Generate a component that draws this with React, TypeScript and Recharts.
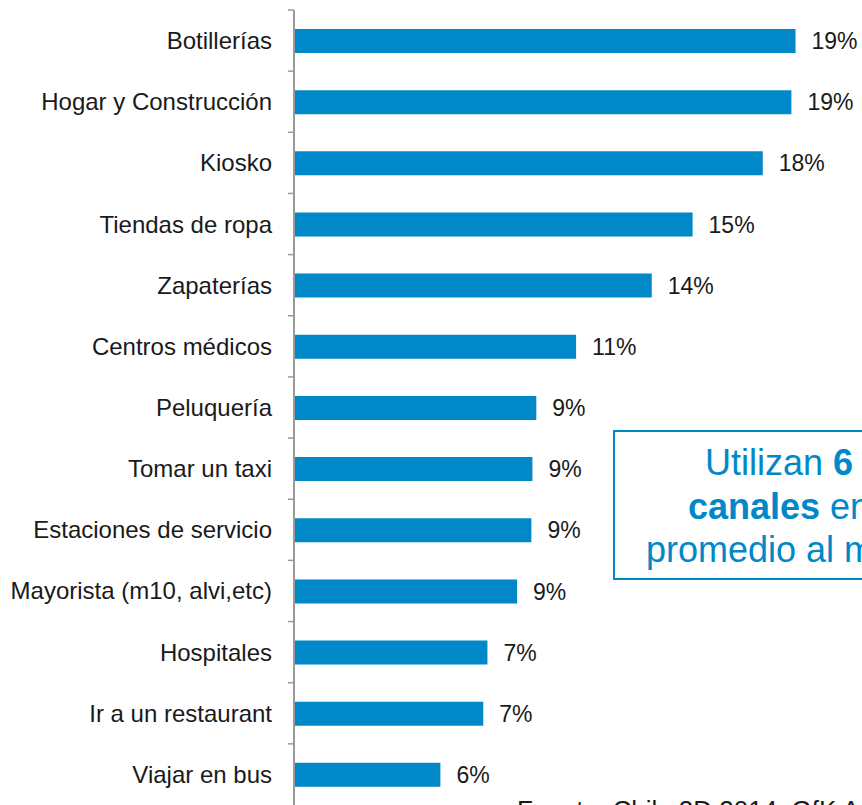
import React from "react";
import { BarChart, Bar, XAxis, YAxis, LabelList } from "recharts";

const categories = [
  "Botillerías",
  "Hogar y Construcción",
  "Kiosko",
  "Tiendas de ropa",
  "Zapaterías",
  "Centros médicos",
  "Peluquería",
  "Tomar un taxi",
  "Estaciones de servicio",
  "Mayorista (m10, alvi,etc)",
  "Hospitales",
  "Ir a un restaurant",
  "Viajar en bus",
];

const values = [19.29, 19.13, 18.03, 15.33, 13.76, 10.85, 9.32, 9.17, 9.13, 8.58, 7.44, 7.28, 5.63];

const boxLine1 = ["Utilizan ", "6"];
const boxLine2 = ["canales", " en"];
const boxLine3 = "promedio al mes";
const sourceText = "Fuente: Chile 3D 2014, GfK Adimark";

const data = categories.map((name, i) => ({ name, v: values[i] }));

const FONT = '"Liberation Sans", Arial, Helvetica, sans-serif';
const BLUE = "#0088C8";
const AXIS = "#9a9a9a";
const TICK_SIZE = 6;
const TICK_MARGIN = 16;

const CategoryTick = (props: any) => {
  const { x, y, payload } = props;
  const half = payload && typeof payload.offset === "number" ? payload.offset : 0;
  const axisX = x + TICK_MARGIN + TICK_SIZE;
  return (
    <g>
      <line
        x1={axisX - TICK_SIZE}
        x2={axisX}
        y1={y - half}
        y2={y - half}
        stroke={AXIS}
        strokeWidth={1.5}
      />
      <text
        x={x}
        y={y}
        dy="0.355em"
        textAnchor="end"
        fill="#1a1a1a"
        fontSize={24}
        fontFamily={FONT}
      >
        {payload.value}
      </text>
    </g>
  );
};

export default function App() {
  return (
    <div
      style={{
        position: "fixed",
        left: 0,
        top: 0,
        width: 862,
        height: 805,
        overflow: "hidden",
        background: "#ffffff",
        fontFamily: FONT,
      }}
    >
      <BarChart
        width={960}
        height={840}
        layout="vertical"
        data={data}
        margin={{ top: 10, right: 146, bottom: 35, left: 0 }}
      >
        <XAxis type="number" domain={[0, 20]} hide />
        <YAxis
          type="category"
          dataKey="name"
          width={294}
          interval={0}
          axisLine={{ stroke: AXIS, strokeWidth: 2 }}
          tickLine={false}
          tickSize={TICK_SIZE}
          tickMargin={TICK_MARGIN}
          tick={CategoryTick}
        />
        <Bar dataKey="v" fill={BLUE} barSize={24} isAnimationActive={false}>
          <LabelList
            dataKey="v"
            position="right"
            offset={16}
            formatter={(v: any) => `${Math.round(Number(v))}%`}
            style={{ fill: "#1a1a1a", fontSize: 23, fontFamily: FONT }}
          />
        </Bar>
      </BarChart>

      <div
        style={{
          position: "absolute",
          left: 613,
          top: 430,
          width: 326,
          height: 150,
          boxSizing: "border-box",
          border: `2.5px solid ${BLUE}`,
          background: "#ffffff",
        }}
      />
      <div
        style={{
          position: "absolute",
          left: 615,
          top: 441,
          width: 328,
          textAlign: "center",
          color: BLUE,
          fontSize: 36,
          lineHeight: "43.5px",
          fontFamily: FONT,
          whiteSpace: "nowrap",
        }}
      >
        <div>
          {boxLine1[0]}
          <b>{boxLine1[1]}</b>
        </div>
        <div>
          <b>{boxLine2[0]}</b>
          {boxLine2[1]}
        </div>
        <div>{boxLine3}</div>
      </div>

      <div
        style={{
          position: "absolute",
          left: 517,
          top: 795,
          fontSize: 26,
          lineHeight: "30px",
          color: "#1a1a1a",
          fontFamily: FONT,
          whiteSpace: "nowrap",
        }}
      >
        {sourceText}
      </div>
    </div>
  );
}
